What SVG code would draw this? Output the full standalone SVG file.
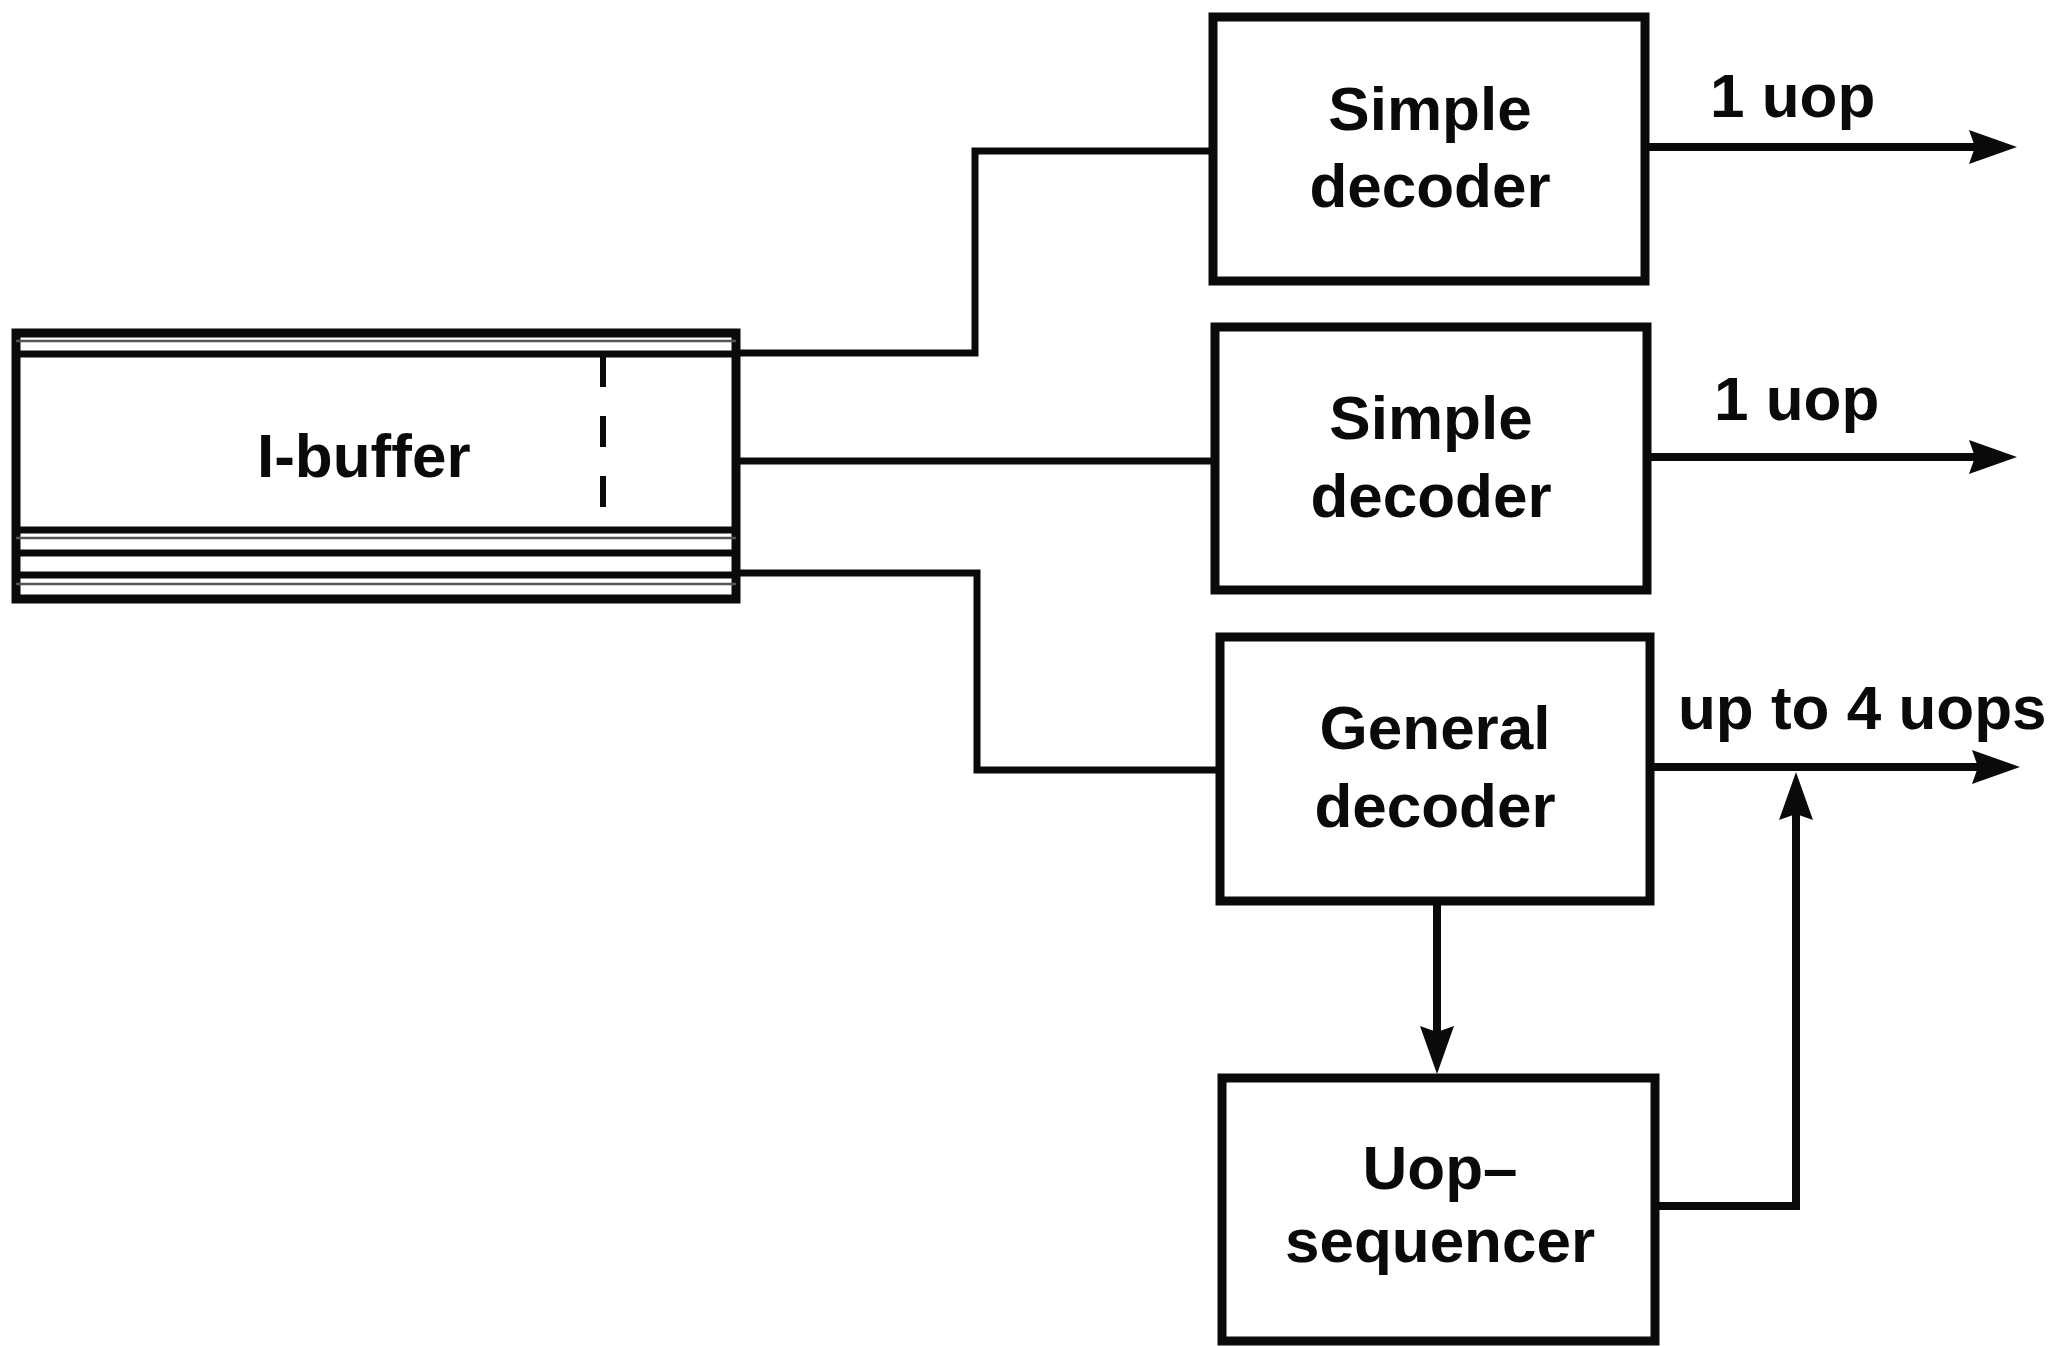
<svg xmlns="http://www.w3.org/2000/svg" width="2067" height="1346" viewBox="0 0 2067 1346">
<style>
  .box { fill: #ffffff; stroke: #0a0a0a; stroke-width: 9; }
  .line { fill: none; stroke: #0a0a0a; stroke-width: 7; }
  .thin { fill: none; stroke: #555555; stroke-width: 2.5; }
  .conn { fill: none; stroke: #0a0a0a; stroke-width: 7; stroke-linejoin: miter; }
  .arr { fill: none; stroke: #0a0a0a; stroke-width: 8; marker-end: url(#head); }
  .lbl { font-family: "Liberation Sans", Arial, Helvetica, sans-serif; font-weight: bold; font-size: 62px; fill: #0a0a0a; }
  .mid { text-anchor: middle; }
</style>
<defs>
  <marker id="head" viewBox="0 0 48 34" markerWidth="48" markerHeight="34" refX="18" refY="17" markerUnits="userSpaceOnUse" orient="auto">
    <path d="M0,0 L48,17 L0,34 L6,17 Z" fill="#0a0a0a"/>
  </marker>
</defs>
<rect width="2067" height="1346" fill="#ffffff"/>

<g id="connectors">
  <path class="conn" d="M737,353 H975 V151 H1213"/>
  <path class="conn" d="M737,461 H1215"/>
  <path class="conn" d="M737,573 H977 V770 H1220"/>
  <path class="arr" d="M1645,147 H1987"/>
  <path class="arr" d="M1647,457 H1987"/>
  <path class="arr" d="M1650,767 H1990"/>
  <path class="arr" d="M1437,901 V1044"/>
  <path class="arr" d="M1655,1206 H1796 V802"/>
</g>

<g id="ibuffer">
  <rect class="box" x="16" y="333" width="720" height="266"/>
  <line class="thin" x1="16" y1="341" x2="736" y2="341"/>
  <line class="line" x1="16" y1="354" x2="736" y2="354"/>
  <line class="line" x1="16" y1="530" x2="736" y2="530"/>
  <line class="thin" x1="16" y1="538" x2="736" y2="538"/>
  <line class="line" x1="16" y1="553" x2="736" y2="553"/>
  <line class="line" x1="16" y1="575" x2="736" y2="575"/>
  <line class="thin" x1="16" y1="584" x2="736" y2="584"/>
  <line x1="603" y1="356" x2="603" y2="512" stroke="#0a0a0a" stroke-width="6" stroke-dasharray="31 29"/>
  <text class="lbl" x="257" y="477">I-buffer</text>
</g>

<g id="simple-decoder-1">
  <rect class="box" x="1213" y="17" width="432" height="264"/>
  <text class="lbl mid" x="1430" y="130">Simple</text>
  <text class="lbl mid" x="1430" y="207">decoder</text>
</g>
<text class="lbl" x="1710" y="117">1 uop</text>

<g id="simple-decoder-2">
  <rect class="box" x="1215" y="327" width="432" height="263"/>
  <text class="lbl mid" x="1431" y="439">Simple</text>
  <text class="lbl mid" x="1431" y="517">decoder</text>
</g>
<text class="lbl" x="1714" y="420">1 uop</text>

<g id="general-decoder">
  <rect class="box" x="1220" y="637" width="430" height="264"/>
  <text class="lbl mid" x="1435" y="749">General</text>
  <text class="lbl mid" x="1435" y="827">decoder</text>
</g>
<text class="lbl" x="1678" y="729">up to 4 uops</text>

<g id="uop-sequencer">
  <rect class="box" x="1222" y="1078" width="433" height="263"/>
  <text class="lbl mid" x="1440" y="1189">Uop–</text>
  <text class="lbl mid" x="1440" y="1262">sequencer</text>
</g>
</svg>
